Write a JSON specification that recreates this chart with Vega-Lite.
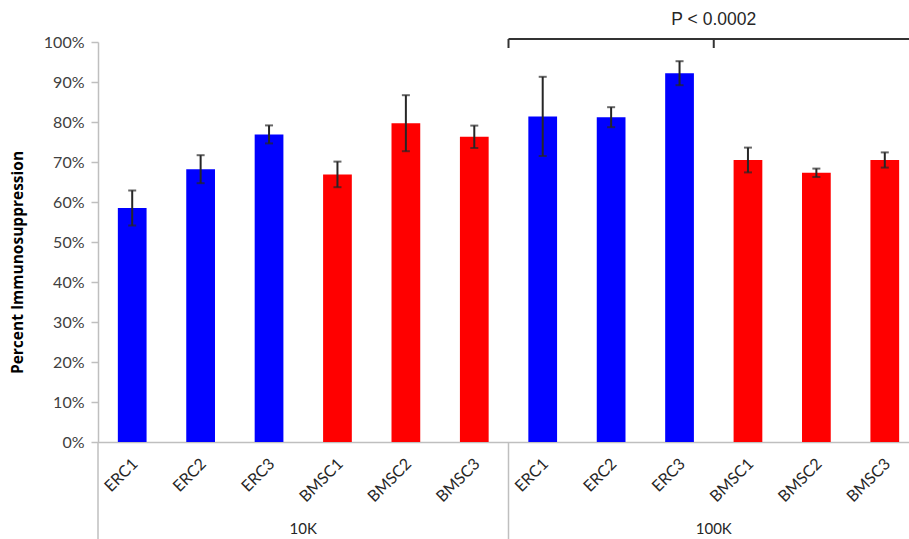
{
  "$schema": "https://vega.github.io/schema/vega-lite/v6.json",
  "width": 811,
  "height": 400,
  "autosize": {"type": "none"},
  "padding": {"left": 98, "top": 42, "right": 0, "bottom": 97},
  "background": "white",
  "config": {
    "view": {"stroke": null},
    "font": "Lato",
    "axisY": {
      "grid": false, "tickSize": 7, "tickColor": "#bfbfbf", "domainColor": "#bfbfbf", "domainWidth": 1.5, "tickWidth": 1.5,
      "labelPadding": 7, "labelFontSize": 16, "labelColor": "#404040", "labelFont": "Lato",
      "titleFont": "Open Sans", "titleFontSize": 15.5, "titleFontWeight": "bold", "titleColor": "#000000",
      "titlePadding": 18, "titleY": 220
    }
  },
  "layer": [
    {
      "data": {"values": [
        {"key": "10K ERC1", "type": "ERC", "value": 58.5, "err": 4.4},
        {"key": "10K ERC2", "type": "ERC", "value": 68.2, "err": 3.5},
        {"key": "10K ERC3", "type": "ERC", "value": 76.9, "err": 2.25},
        {"key": "10K BMSC1", "type": "BMSC", "value": 66.9, "err": 3.2},
        {"key": "10K BMSC2", "type": "BMSC", "value": 79.7, "err": 7.0},
        {"key": "10K BMSC3", "type": "BMSC", "value": 76.3, "err": 2.8},
        {"key": "100K ERC1", "type": "ERC", "value": 81.4, "err": 9.9},
        {"key": "100K ERC2", "type": "ERC", "value": 81.2, "err": 2.5},
        {"key": "100K ERC3", "type": "ERC", "value": 92.2, "err": 3.0},
        {"key": "100K BMSC1", "type": "BMSC", "value": 70.5, "err": 3.1},
        {"key": "100K BMSC2", "type": "BMSC", "value": 67.3, "err": 1.05},
        {"key": "100K BMSC3", "type": "BMSC", "value": 70.5, "err": 1.9}
      ]},
      "encoding": {
        "x": {
          "field": "key", "type": "nominal", "sort": null,
          "scale": {"range": [0, 821], "paddingInner": 0, "paddingOuter": 0},
          "axis": {
            "title": null, "grid": false, "ticks": false,
            "labelExpr": "split(datum.label, ' ')[1]",
            "labelAngle": 315, "labelAlign": "right", "labelBaseline": "middle",
            "labelPadding": 19, "labelFontSize": 16, "labelColor": "#262626", "labelOffset": 3,
            "labelFont": "Lato", "domainColor": "#bfbfbf", "domainWidth": 1.5
          }
        },
        "y": {
          "field": "value", "type": "quantitative",
          "scale": {"domain": [0, 100], "nice": false},
          "axis": {
            "values": [0, 10, 20, 30, 40, 50, 60, 70, 80, 90, 100],
            "labelExpr": "datum.value + '%'",
            "title": "Percent Immunosuppression"
          }
        }
      },
      "layer": [
        {
          "mark": {"type": "bar", "width": {"band": 0.42}},
          "encoding": {
            "color": {"field": "type", "type": "nominal",
              "scale": {"domain": ["ERC", "BMSC"], "range": ["#0000ff", "#ff0000"]},
              "legend": null}
          }
        },
        {
          "mark": {"type": "errorbar", "ticks": true, "color": "#262626", "thickness": 2, "size": 8},
          "encoding": {"yError": {"field": "err"}}
        }
      ]
    },
    {
      "data": {"values": [
        {"x0": 0, "x1": 0, "y0": 0, "y1": -24.5},
        {"x0": 6, "x1": 6, "y0": 0, "y1": -24.5}
      ]},
      "mark": {"type": "rule", "color": "#bfbfbf", "strokeWidth": 1.5},
      "encoding": {
        "x": {"field": "x0", "type": "quantitative", "scale": {"domain": [0, 12], "range": [0, 821]}, "axis": null},
        "x2": {"field": "x1"},
        "y": {"field": "y0", "type": "quantitative", "scale": {"domain": [0, 100], "nice": false},
          "axis": {"values": [0, 10, 20, 30, 40, 50, 60, 70, 80, 90, 100], "labelExpr": "datum.value + '%'", "title": "Percent Immunosuppression"}},
        "y2": {"field": "y1"}
      }
    },
    {
      "data": {"values": [
        {"x0": 6, "x1": 12.5, "y0": 100.75, "y1": 100.75},
        {"x0": 6, "x1": 6, "y0": 98.5, "y1": 100.75},
        {"x0": 9, "x1": 9, "y0": 98.5, "y1": 100.75}
      ]},
      "mark": {"type": "rule", "color": "#333333", "strokeWidth": 2},
      "encoding": {
        "x": {"field": "x0", "type": "quantitative", "scale": {"domain": [0, 12], "range": [0, 821]}, "axis": null},
        "x2": {"field": "x1"},
        "y": {"field": "y0", "type": "quantitative", "scale": {"domain": [0, 100], "nice": false},
          "axis": {"values": [0, 10, 20, 30, 40, 50, 60, 70, 80, 90, 100], "labelExpr": "datum.value + '%'", "title": "Percent Immunosuppression"}},
        "y2": {"field": "y1"}
      }
    },
    {
      "data": {"values": [
        {"x": 9, "y": 105.6, "label": "P < 0.0002"}
      ]},
      "mark": {"type": "text", "font": "Liberation Sans", "fontSize": 17.5, "color": "#262626", "baseline": "middle", "align": "center"},
      "encoding": {
        "x": {"field": "x", "type": "quantitative", "scale": {"domain": [0, 12], "range": [0, 821]}, "axis": null},
        "y": {"field": "y", "type": "quantitative", "scale": {"domain": [0, 100], "nice": false},
          "axis": {"values": [0, 10, 20, 30, 40, 50, 60, 70, 80, 90, 100], "labelExpr": "datum.value + '%'", "title": "Percent Immunosuppression"}},
        "text": {"field": "label"}
      }
    },
    {
      "data": {"values": [
        {"x": 3, "y": -21.75, "label": "10K"},
        {"x": 9, "y": -21.75, "label": "100K"}
      ]},
      "mark": {"type": "text", "font": "Lato", "fontSize": 15, "color": "#262626", "baseline": "middle", "align": "center"},
      "encoding": {
        "x": {"field": "x", "type": "quantitative", "scale": {"domain": [0, 12], "range": [0, 821]}, "axis": null},
        "y": {"field": "y", "type": "quantitative", "scale": {"domain": [0, 100], "nice": false},
          "axis": {"values": [0, 10, 20, 30, 40, 50, 60, 70, 80, 90, 100], "labelExpr": "datum.value + '%'", "title": "Percent Immunosuppression"}},
        "text": {"field": "label"}
      }
    }
  ],
  "resolve": {"scale": {"x": "independent"}}
}
